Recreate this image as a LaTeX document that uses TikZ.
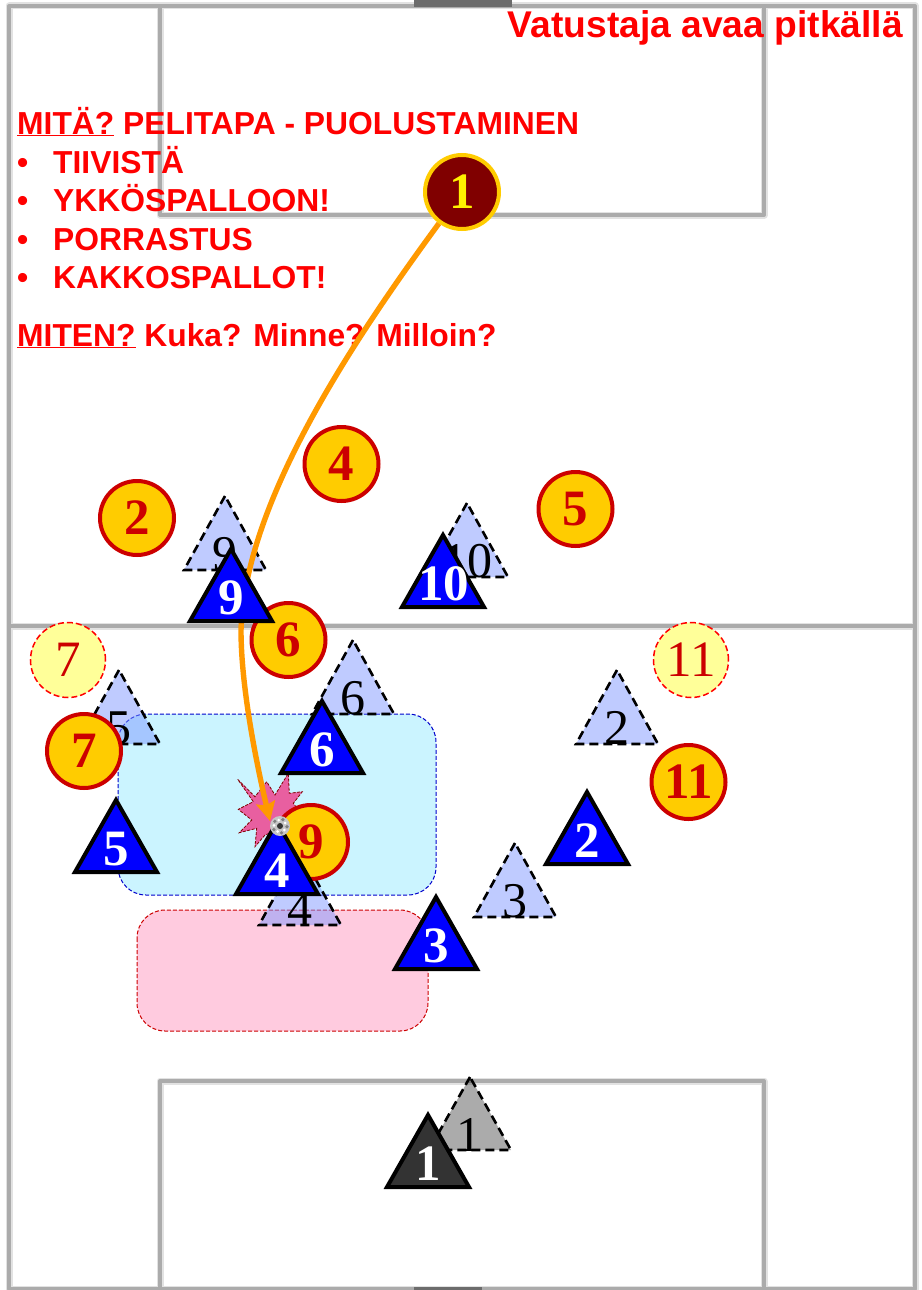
\documentclass[tikz,border=0pt]{standalone}
\usepackage{fontspec}
\setmainfont{Liberation Serif}
\newfontfamily\hdfont{Liberation Sans}
\usetikzlibrary{arrows.meta}
\definecolor{pline}{HTML}{ABABAB}
\definecolor{phalo}{HTML}{E2E2E2}
\definecolor{cyanzone}{HTML}{99EBFF}
\definecolor{pinkzone}{HTML}{FF99C0}
\definecolor{ghostblue}{HTML}{8099FF}
\definecolor{dotred}{HTML}{CC0000}
\definecolor{dotgold}{HTML}{FFCC00}
\definecolor{ghostyellow}{HTML}{FFFF99}
\definecolor{maroonfill}{HTML}{800000}
\definecolor{arroworange}{HTML}{FF9900}
\definecolor{starpink}{HTML}{E85FA0}
\definecolor{zoneblue}{HTML}{0000CC}
\tikzset{
  x=1pt,y=-1pt,
  halo/.style={draw=phalo,line width=7pt,line join=round},
  pitchline/.style={draw=pline,line width=4pt,line join=round},
  zone/.style={rounded corners=28pt,line width=1pt,dash pattern=on 4pt off 2pt},
  ghosttri/.style={draw=black,line width=2.6pt,dash pattern=on 9pt off 5pt,fill=ghostblue,fill opacity=.5},
  ghostnum/.style={font=\fontsize{50}{50}\selectfont,text=black,inner sep=0pt},
  bluetri/.style={draw=black,fill=blue,line width=4pt,line join=miter},
  bluenum/.style={font=\bfseries\fontsize{51}{51}\selectfont,text=white,inner sep=0pt},
  dot/.style={circle,draw=dotred,fill=dotgold,line width=4pt,minimum size=74pt,inner sep=0pt,text=dotred,font=\bfseries\fontsize{51}{51}\selectfont},
  ghostdot/.style={circle,draw=red,fill=ghostyellow,line width=1.5pt,dash pattern=on 6pt off 3pt,minimum size=75pt,inner sep=0pt,text=dotred,font=\fontsize{51}{51}\selectfont},
  keeper/.style={circle,draw=dotgold,fill=maroonfill,line width=4pt,minimum size=74pt,inner sep=0pt,text=yellow,font=\bfseries\fontsize{51}{51}\selectfont},
  hd/.style={anchor=base west,inner sep=0pt,text=red,font=\hdfont\bfseries\fontsize{31.8}{31.8}\selectfont},
}
\newcommand{\gtri}[5]{% name, apex x, apex y, label offset x, label
  \draw[ghosttri] (#2,#3) -- ({#2-41},{#3+74}) -- ({#2+41},{#3+74}) -- cycle;
  \node[ghostnum] (#1) at ({#2+#4},{#3+58}) {#5};}
\newcommand{\btri}[5][blue]{% fill, name, apex x, apex y, label
  \draw[bluetri,fill=#1] (#3,{#4+4}) -- ({#3-41},{#4+76}) -- ({#3+41},{#4+76}) -- cycle;
  \node[bluenum] (#2) at ({#3+0.5},{#4+53}) {#5};}
\begin{document}
\begin{tikzpicture}
\useasboundingbox (0,0) rectangle (921,1290);
\fill[white] (0,0) rectangle (921,1290);
\begin{scope}
\clip (0,0) rectangle (921,1290);
\foreach \sty in {halo,pitchline}{
  \path[\sty] (9,6) rectangle (915,1289);
  \path[\sty] (9,626) -- (915,626);
  \path[\sty] (160,6) -- (160,215) -- (764,215) -- (764,6);
  \path[\sty] (160,1300) -- (160,1081) -- (764,1081) -- (764,1300);
}
\fill[gray!85!black] (414,0) rectangle (512,7);
\fill[gray!85!black] (414,1287) rectangle (482,1290);
\end{scope}
% texts
\node[hd,font=\hdfont\bfseries\fontsize{37.2}{37.2}\selectfont,anchor=base east] (title) at (903,38) {Vatustaja avaa pitkällä};
\node[hd] (l1) at (17,134) {\underbar{MITÄ?} PELITAPA - PUOLUSTAMINEN};
\node[hd] (b1) at (17,173) {•};\node[hd] (l2) at (53,173) {TIIVISTÄ};
\node[hd] (b2) at (17,211) {•};\node[hd] (l3) at (53,211) {YKKÖSPALLOON!};
\node[hd] (b3) at (17,250) {•};\node[hd] (l4) at (53,250) {PORRASTUS};
\node[hd] (b4) at (17,288) {•};\node[hd] (l5) at (53,288) {KAKKOSPALLOT!};
\node[hd] (l6) at (17,346) {\underbar{MITEN?} Kuka? Minne? Milloin?};
% zones
\draw[zone,draw=zoneblue,fill=cyanzone,fill opacity=.5] (118,714) rectangle (436,895);
\draw[zone,draw=dotred,fill=pinkzone,fill opacity=.5] (137,910) rectangle (428,1031);
% ghost defenders
\gtri{g9}{225}{496}{0}{9}
\gtri{g10}{467}{503}{0}{10}
\gtri{g5}{119}{670}{0}{5}
\gtri{g6}{353}{640}{0}{6}
\gtri{g2}{617}{670}{0}{2}
\gtri{g3}{515}{843}{0}{3}
\gtri{g4}{300}{851}{0}{4}
\draw[ghosttri,fill=black,fill opacity=.33] (470,1077) -- (429,1150) -- (511,1150) -- cycle;
\node[ghostnum] (g1) at (469,1135) {1};
% opponents
\node[ghostdot] (o7g) at (68,660) {7};
\node[ghostdot] (o11g) at (691,660) {11};
\node[keeper] (gk) at (462,192) {1};
\coordinate (bend) at (241,630);
\coordinate (ballpt) at (270,821);
% burst
\draw[fill=starpink,draw=maroonfill,line width=.8pt,dash pattern=on 3pt off 1.5pt]
  (237.7,779.3) -- (255,796.7) -- (266.7,781.7) -- (275,795) -- (288.3,773.3) -- (289.3,793.3) -- (302.3,791.7) -- (293.3,803.3) -- (298.3,810) -- (286.7,826.7) -- (265,835) -- (255,846.7) -- (256.7,828.3) -- (239.3,832.7) -- (251.7,820) -- (238.3,809.3) -- (253.3,801.7) -- cycle;
\node[dot] (o2) at (137,518) {2};
\node[dot] (o4) at (341.5,464) {4};
\node[dot] (o5) at (575.5,509) {5};
\node[dot] (o9) at (311,842) {9};
\node[dot] (o11) at (688.5,782) {11};
% pass
\draw[arroworange,line width=5.4pt,-{Stealth[length=19pt,width=19pt,inset=3pt]}]
  (gk) .. controls (346,350) and (245,505) .. (bend) .. controls (241,690) and (258,770) .. (ballpt);
% own team
\node[dot] (o6) at (288.5,640) {6};
\node[dot] (o7) at (84,751) {7};
\btri{b9}{231}{545}{9}
\btri{b10}{443}{531}{10}
\btri{b6}{322}{697}{6}
\btri{b5}{116}{796}{5}
\btri{b4}{277}{818}{4}
\btri{b2}{587}{788}{2}
\btri{b3}{436}{893}{3}
\btri[black!80]{b1}{428}{1111}{1}
% ball
\node[circle,fill=gray!45,minimum size=20pt,inner sep=0pt] (ball) at (280,826) {};
\fill[black!80] (ball.center) circle (3pt);
\foreach \a in {30,102,174,246,318}{\fill[black!50] (ball.center) ++(\a:-7pt) circle (1.8pt);}
\foreach \a in {66,138,210,282,354}{\fill[white] (ball.center) ++(\a:-6pt) circle (1.5pt);}
\end{tikzpicture}
\end{document}
